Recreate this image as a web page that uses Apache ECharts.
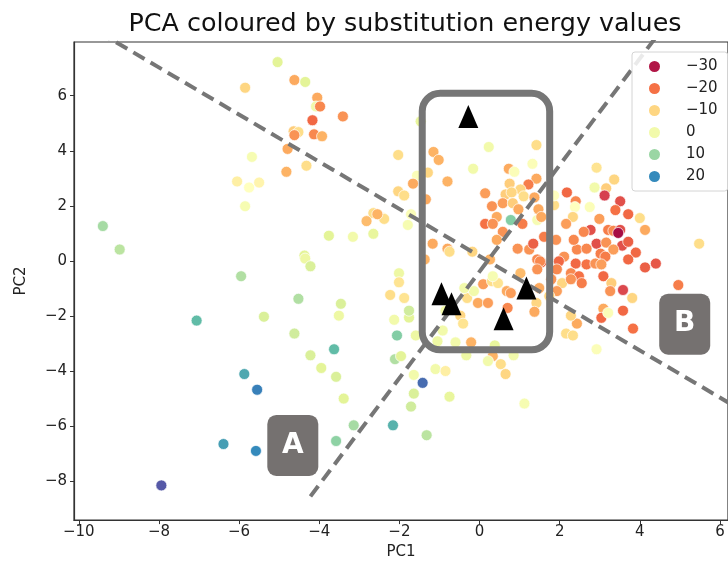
<!DOCTYPE html>
<html>
<head>
<meta charset="utf-8">
<script src="https://cdn.jsdelivr.net/npm/echarts@6/dist/echarts.min.js"></script>
<style>
html,body{margin:0;padding:0;background:#fff;}
#chart{width:728px;height:565px;}
</style>
</head>
<body>
<div id="chart"></div>
<script>
// ---- data ----
const titleText = 'PCA coloured by substitution energy values';
const xTicks = [-10, -8, -6, -4, -2, 0, 2, 4, 6];
const yTicks = [-8, -6, -4, -2, 0, 2, 4, 6];
const legendValues = [-30, -20, -10, 0, 10, 20];
// [PC1, PC2, substitution energy]
const pcaPoints = [
[-5.04,7.22,3],[-4.62,6.57,-15],[-4.35,6.50,3],[-5.85,6.29,-10],[-4.05,5.93,-15],[-4.08,5.61,0],
[-3.98,5.61,-18],[-3.41,5.25,-17],[-4.17,5.11,-21],[-4.64,4.71,-11],[-4.52,4.68,-9],[-4.62,4.57,-17],
[-4.13,4.60,-18],[-3.93,4.53,-14],[-4.79,4.07,-15],[-5.68,3.78,-1],[-4.32,3.46,-9],[-4.82,3.24,-14],
[-6.05,2.89,-6],[-5.75,2.67,-3],[-5.50,2.85,-5],[-5.85,1.99,-1],[-9.40,1.27,9],[-8.98,0.42,7],
[-3.76,0.92,3],[-3.16,0.88,0],[-4.37,0.20,3],[-4.35,0.09,1],[-4.22,-0.19,4],[-5.95,-0.55,8],
[-2.65,1.74,-9],[-2.82,1.45,-13],[-2.40,1.56,-8],[-2.65,0.99,2],[-2.01,-0.44,1],[-2.01,-0.77,-8],
[-2.23,-1.23,-9],[-1.88,-1.34,-8],[-4.52,-1.37,8],[-3.46,-1.55,4],[-7.06,-2.16,15],[-5.38,-2.02,4],
[-3.51,-1.98,1],[-2.13,-2.13,0],[-1.76,-2.05,3],[-4.62,-2.63,5],[-2.06,-2.70,12],[-3.63,-3.20,15],
[-4.22,-3.42,4],[-2.11,-3.56,8],[-1.96,-3.45,3],[-3.95,-3.88,3],[-5.87,-4.10,17],[-3.58,-4.20,4],
[-1.64,-4.13,0],[-5.55,-4.67,21],[-3.39,-4.99,3],[-1.64,-4.81,4],[-1.71,-5.28,5],[-3.14,-5.96,9],
[-2.16,-5.96,16],[-3.58,-6.53,11],[-6.39,-6.64,18],[-5.58,-6.89,20],[-7.94,-8.14,25],[-1.42,-4.42,23],
[-1.10,-3.92,0],[-0.85,-3.99,-6],[-0.75,-4.92,2],[-1.32,-6.32,7],[0.33,-3.45,-14],[0.21,-3.63,0],
[0.53,-3.74,-9],[0.65,-4.10,-10],[0.85,-3.42,0],[-0.33,-3.42,1],[1.12,-5.17,-1],
[-1.47,5.07,2],[0.23,4.14,0],[1.42,4.21,-9],[-2.03,3.85,-9],[-1.15,3.96,-14],[-1.02,3.67,-14],
[-0.16,3.35,0],[1.32,3.53,-2],[0.73,3.35,-15],[0.87,3.24,-2],[-1.29,3.21,-10],[-1.56,3.10,-2],
[-0.80,2.89,-14],[-1.66,2.81,-15],[1.42,2.99,-15],[1.22,2.78,-19],[0.75,2.81,-11],[1.02,2.60,-10],
[-2.03,2.53,-10],[-1.88,2.38,-9],[-1.34,2.24,-15],[0.14,2.46,-16],[0.65,2.42,-11],[0.80,2.49,-10],
[1.10,2.35,-9],[1.37,2.31,-15],[0.31,1.99,-17],[0.58,2.10,-16],[0.83,2.10,-11],[0.97,1.88,-15],
[1.47,1.88,-15],[0.43,1.60,-15],[0.14,1.35,-20],[0.33,1.35,-17],[0.78,1.49,12],[1.07,1.35,-19],
[1.44,1.49,-1],[0.58,1.06,-17],[-2.38,1.53,-9],[-1.79,1.31,-1],[-2.55,1.70,-14],[-1.71,1.70,-2],
[-1.17,0.63,-15],[-0.80,0.45,-15],[-0.75,0.34,-9],[-1.37,0.06,-14],[-0.18,0.34,-10],[0.43,0.77,-15],
[0.95,0.45,-17],[1.24,0.42,-17],[1.34,0.63,-22],[1.54,-0.05,-21],[1.44,0.06,-18],[0.26,0.06,-14],
[-1.76,-1.80,5],[0.09,-0.84,-16],[0.31,-0.73,-9],[0.46,-0.80,-8],[0.33,-0.55,-1],[0.68,-1.09,-15],
[0.78,-1.16,-16],[1.02,-0.44,-13],[-0.31,-1.34,-9],[-0.04,-1.52,-15],[0.21,-1.52,-16],[-0.14,-1.09,0],
[-0.38,-0.98,0],[1.42,-1.52,-10],[1.37,-1.84,-15],[-0.48,-1.98,-10],[-0.41,-2.27,-8],[-0.85,-1.80,0],
[0.70,-1.70,-18],[-0.60,-2.95,0],[-0.21,-2.95,-14],[-1.05,-2.91,1],[0.38,-3.06,2],[-0.92,-2.52,0],
[-1.59,-2.70,1],
[2.92,3.39,-8],[3.36,2.96,-10],[2.87,2.67,0],[3.16,2.64,-11],[3.12,2.38,-26],[2.18,2.49,-21],
[2.40,2.17,-18],[3.51,2.17,-24],[2.75,1.96,-2],[2.38,1.96,-3],[3.39,1.85,-20],[3.71,1.70,-21],
[4.00,1.56,-9],[2.99,1.53,-16],[2.33,1.60,-10],[1.86,2.03,-9],[1.86,2.38,-3],[1.54,1.60,-15],
[2.16,1.35,-16],[2.77,1.13,-24],[2.60,1.06,-18],[3.21,1.13,-19],[3.34,1.10,-18],[3.51,1.13,-24],
[4.13,1.13,-15],[5.48,0.63,-9],[2.92,0.63,-24],[3.16,0.67,-17],[3.56,0.56,-24],[3.71,0.70,-22],
[3.90,0.31,-21],[3.71,0.06,-21],[4.13,-0.23,-22],[4.40,-0.09,-23],[2.43,0.42,-18],[2.67,0.45,-18],
[3.02,0.27,-19],[3.34,0.42,-16],[3.14,0.16,-19],[2.11,0.16,-17],[1.98,-0.01,-21],[2.40,-0.09,-21],
[2.67,-0.12,-20],[2.89,-0.09,-17],[3.04,-0.12,-16],[1.51,-0.01,-18],[1.93,-0.30,-18],[2.28,-0.44,-18],
[2.48,-0.55,-20],[3.09,-0.55,-21],[2.55,-0.80,-19],[2.06,-0.80,-10],[2.28,-0.66,-17],[1.93,-1.09,-16],
[3.29,-0.80,-11],[3.26,-1.09,-17],[3.58,-1.05,-25],[3.81,-1.34,-10],[3.09,-1.73,-15],[3.58,-1.80,-21],
[3.04,-2.06,-21],[3.21,-1.88,-2],[2.43,-2.27,-15],[2.28,-1.98,-10],[3.83,-2.45,-20],[2.16,-2.63,-9],
[2.33,-2.70,-9],[2.92,-3.20,-2],[4.96,-0.87,-19],[1.44,-0.30,-17],[1.49,-0.98,-15],[1.79,-0.66,-17],
[1.61,0.88,-19],[1.74,-1.27,-10],[2.35,0.77,-18],[1.91,0.77,-17],[3.46,1.02,-31]
];
// black triangle landmarks
const landmarks = [[-0.28,5.25],[-0.95,-1.19],[-0.70,-1.55],[1.17,-0.98],[0.60,-2.09]];
// dashed split lines, endpoints in data units
const splitLineA = [[-9.5,8.31],[7.0,-5.81]];
const splitLineB = [[-4.22,-8.54],[4.6,8.51]];
// highlighted rounded rectangle [x0, y0, x1, y1]
const highlightBox = [-1.43, 6.09, 1.75, -3.22];
// region labels
const regionLabels = [[-4.66,-6.69,'A'],[5.12,-2.29,'B']];

// ---- styling ----
const spectral = ['#9e0142','#d53e4f','#f46d43','#fdae61','#fee08b','#ffffbf','#e6f598','#abdda4','#66c2a5','#3288bd','#5e4fa2'];
const vMin = -32, vMax = 26;
function hexToRgb(h){return [parseInt(h.slice(1,3),16),parseInt(h.slice(3,5),16),parseInt(h.slice(5,7),16)];}
function spectralColor(v){
  let t = (v - vMin)/(vMax - vMin); t = Math.max(0, Math.min(1, t));
  const pos = t*(spectral.length-1); const i = Math.min(Math.floor(pos), spectral.length-2); const f = pos - i;
  const a = hexToRgb(spectral[i]), b = hexToRgb(spectral[i+1]);
  return 'rgb(' + a.map((c,k)=>Math.round(c+(b[k]-c)*f)).join(',') + ')';
}
const minus = s => String(s).replace('-', '\u2212');
const FONT = 'DejaVu Sans';
const gray = '#767676';
const labelBoxPath = 'path://M9,0H42A9,9 0 0 1 51,9V52A9,9 0 0 1 42,61H9A9,9 0 0 1 0,52V9A9,9 0 0 1 9,0Z';

const legendSeries = legendValues.map(v => ({
  name: minus(v), type: 'scatter', data: [], symbol: 'circle',
  itemStyle: { color: spectralColor(v), opacity: 1 }
}));

const chart = echarts.init(document.getElementById('chart'), null, {renderer:'canvas'});
chart.setOption({
  animation: false,
  backgroundColor: '#fff',
  textStyle: { fontFamily: FONT },
  title: {
    text: titleText, left: 400, top: 7, textAlign: 'center',
    textStyle: { fontFamily: FONT, fontSize: 25.4, fontWeight: 'normal', color: '#111' }
  },
  grid: { left: 74, top: 42, right: -8, bottom: 38, show: true, borderColor: '#333', borderWidth: 1.2, backgroundColor: 'transparent' },
  xAxis: {
    type: 'value', min: -10.12, max: 6.2,
    name: 'PC1', nameLocation: 'middle', nameGap: 19,
    nameTextStyle: { fontFamily: FONT, fontSize: 15, color: '#222' },
    splitLine: { show: false },
    axisLine: { show: true, onZero: false, lineStyle: { color: '#333', width: 1.2 } },
    axisTick: { show: true, inside: false, length: 4, customValues: xTicks, lineStyle: { color: '#333' } },
    axisLabel: { customValues: xTicks, formatter: minus, fontFamily: FONT, fontSize: 15, color: '#222', margin: 5 }
  },
  yAxis: {
    type: 'value', min: -9.4, max: 7.95,
    name: 'PC2', nameLocation: 'middle', nameGap: 45, nameRotate: 90,
    nameTextStyle: { fontFamily: FONT, fontSize: 15, color: '#222' },
    splitLine: { show: false },
    axisLine: { show: true, onZero: false, lineStyle: { color: '#333', width: 1.2 } },
    axisTick: { show: true, inside: false, length: 4, customValues: yTicks, lineStyle: { color: '#333' } },
    axisLabel: { customValues: yTicks, formatter: minus, fontFamily: FONT, fontSize: 15, color: '#222', margin: 7 }
  },
  visualMap: {
    type: 'continuous', show: false, min: vMin, max: vMax, dimension: 2, seriesIndex: 0,
    inRange: { color: spectral }
  },
  legend: {
    orient: 'vertical', left: 632, top: 52,
    data: legendValues.map(minus),
    icon: 'circle', itemWidth: 11, itemHeight: 11, itemGap: 7,
    padding: [7, 10, 7, 17],
    backgroundColor: 'rgba(255,255,255,0.85)', borderColor: '#d4d4d4', borderWidth: 1, borderRadius: 3,
    textStyle: { fontFamily: FONT, fontSize: 15, color: '#222', padding: [0, 0, 0, 21] },
    z: 20
  },
  series: [
    {
      type: 'scatter', data: pcaPoints, symbolSize: 11, z: 2,
      itemStyle: { borderColor: '#fff', borderWidth: 0.7, opacity: 1 }
    },
    {
      type: 'line', data: splitLineA, symbol: 'none', clip: true, z: 3, silent: true,
      lineStyle: { color: gray, width: 4, type: [13, 7], opacity: 1 }
    },
    {
      type: 'line', data: splitLineB, symbol: 'none', clip: true, z: 3, silent: true,
      lineStyle: { color: gray, width: 4, type: [13, 7], opacity: 1 }
    },
    {
      type: 'custom', z: 4, silent: true, data: [highlightBox],
      renderItem: function (params, api) {
        const p1 = api.coord([api.value(0), api.value(1)]);
        const p2 = api.coord([api.value(2), api.value(3)]);
        return { type: 'rect',
          shape: { x: p1[0], y: p1[1], width: p2[0]-p1[0], height: p2[1]-p1[1], r: 18 },
          style: { fill: 'none', stroke: gray, lineWidth: 7 } };
      }
    },
    {
      type: 'scatter', data: landmarks, symbol: 'triangle', symbolSize: [20, 23], z: 5,
      itemStyle: { color: '#000', opacity: 1 }
    },
    {
      type: 'scatter', data: regionLabels, symbol: labelBoxPath, symbolSize: [51, 61], z: 5,
      itemStyle: { color: '#757170', opacity: 1 },
      label: { show: true, position: 'inside', formatter: p => p.data[2], color: '#fff',
               fontFamily: FONT, fontSize: 28, fontWeight: 'bold' }
    }
  ].concat(legendSeries)
});
</script>
</body>
</html>
